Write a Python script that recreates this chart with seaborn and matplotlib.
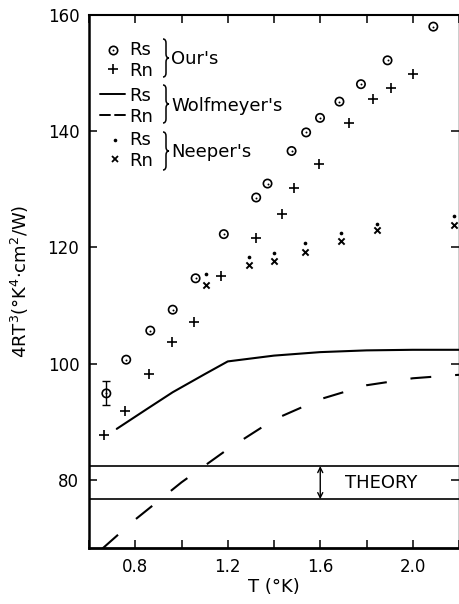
import numpy as np
import pandas as pd
import matplotlib
matplotlib.use("Agg")
import matplotlib.pyplot as plt
import seaborn as sns
from matplotlib.lines import Line2D
from matplotlib.path import Path
from matplotlib.patches import PathPatch

# ---------------- data ----------------
ours_rs_T = [0.675, 0.761, 0.865, 0.962, 1.061, 1.183, 1.323, 1.372, 1.476,
             1.539, 1.599, 1.683, 1.776, 1.891, 2.089]
ours_rs_v = [94.9, 100.7, 105.7, 109.3, 114.7, 122.3, 128.6, 131.0, 136.6,
             139.8, 142.3, 145.1, 148.1, 152.2, 158.0]
ours_rs_err_T = [0.675]
ours_rs_err_v = [94.9]
ours_rs_err = [2.05]

ours_rn_T = [0.667, 0.754, 0.859, 0.957, 1.052, 1.171, 1.323, 1.435, 1.488,
             1.596, 1.726, 1.826, 1.907, 2.003]
ours_rn_v = [87.7, 91.8, 98.2, 103.7, 107.2, 115.1, 121.7, 125.8, 130.3,
             134.3, 141.4, 145.6, 147.4, 149.9]

neeper_T = [1.104, 1.294, 1.399, 1.536, 1.688, 1.844, 2.179]
neeper_rs = [115.5, 118.3, 119.1, 120.7, 122.5, 124.1, 125.4]
neeper_rn = [113.6, 117.0, 117.7, 119.3, 121.1, 123.0, 123.8]

wolf_rs_T = [0.72, 0.85, 0.962, 1.1, 1.2, 1.4, 1.6, 1.8, 2.0, 2.2]
wolf_rs_v = [88.8, 92.2, 95.1, 98.2, 100.4, 101.4, 102.0, 102.3, 102.4, 102.4]
wolf_rn_T = [0.658, 0.8, 1.0, 1.2, 1.4, 1.6, 1.8, 2.0, 2.2]
wolf_rn_v = [68.2, 73.2, 79.6, 85.3, 90.4, 93.9, 96.3, 97.5, 98.1]

theory_band = [82.4, 76.7]
theory_arrow_T = 1.6

x_major = [0.8, 1.2, 1.6, 2.0]
x_minor = [0.6, 1.0, 1.4, 1.8, 2.2]
y_ticks = [80, 100, 120, 140, 160]

# ---------------- figure ----------------
sns.set_style("ticks")
plt.rcParams["font.family"] = ["DejaVu Sans"]
plt.rcParams["mathtext.fontset"] = "dejavusans"
for key in ["text.color", "axes.labelcolor", "xtick.color", "ytick.color",
            "axes.edgecolor"]:
    plt.rcParams[key] = "black"

W, H = 459, 604
fig = plt.figure(figsize=(W / 100, H / 100), dpi=100)
ax = fig.add_axes([89 / W, 1 - 548 / H, 370 / W, 533 / H])

k = "black"
sns.lineplot(x=wolf_rs_T, y=wolf_rs_v, ax=ax, color=k, lw=1.5)
sns.lineplot(x=wolf_rn_T, y=wolf_rn_v, ax=ax, color=k, lw=1.5,
             dashes=False)
ax.lines[-1].set_dashes((10, 11.5))

for yv in theory_band:
    ax.axhline(yv, color=k, lw=1.2)
ax.annotate("", xy=(theory_arrow_T, theory_band[0]),
            xytext=(theory_arrow_T, theory_band[1]),
            arrowprops=dict(arrowstyle="<->", lw=1.0, color=k,
                            shrinkA=0, shrinkB=0, mutation_scale=9))
ax.text(1.865, np.mean(theory_band), "THEORY", ha="center", va="center",
        fontsize=13, color=k)

# Our's
sns.scatterplot(x=ours_rs_T, y=ours_rs_v, ax=ax, marker="o", s=36,
                facecolor="none", edgecolor=k, linewidth=1.2, zorder=5)
sns.scatterplot(x=ours_rs_T, y=ours_rs_v, ax=ax, marker="o", s=2,
                color=k, linewidth=0, zorder=6)
ax.errorbar(ours_rs_err_T, ours_rs_err_v, yerr=ours_rs_err, fmt="none",
            ecolor=k, elinewidth=1.0, capsize=3, capthick=1.0)
sns.scatterplot(x=ours_rn_T, y=ours_rn_v, ax=ax, marker="+", s=50,
                color=k, linewidth=1.2, zorder=5)
# Neeper's
sns.scatterplot(x=neeper_T, y=neeper_rs, ax=ax, marker="o", s=7,
                color=k, linewidth=0, zorder=5)
sns.scatterplot(x=neeper_T, y=neeper_rn, ax=ax, marker="x", s=20,
                color=k, linewidth=1.4, zorder=5)

ax.set_xlim(0.6, 2.2)
ax.set_ylim(68.3, 160)
ax.set_xticks(x_major)
ax.set_xticklabels([f"{v:.1f}" for v in x_major])
ax.set_xticks(x_minor, minor=True)
ax.set_yticks(y_ticks)
ax.set_yticklabels([str(v) for v in y_ticks])
ax.tick_params(which="both", direction="in", length=6, width=1.1,
               top=True, right=True, labelsize=12, pad=7, colors=k,
               labelcolor=k)
for side, lw in [("left", 1.8), ("bottom", 2.0), ("top", 1.5), ("right", 1.0)]:
    ax.spines[side].set_visible(True)
    ax.spines[side].set_linewidth(lw)
    ax.spines[side].set_color(k)

ax.set_xlabel("T (°K)", fontsize=13, labelpad=2, color=k)
ax.set_ylabel(r"$4$RT$^3$(°K$^4$$\cdot$cm$^2$/W)", fontsize=13, labelpad=12,
              color=k)

# ---------------- hand-made legend (figure pixel coords) ----------------
def P(px, py):
    return (px / W, 1 - py / H)

def ftext(px, py, s, **kw):
    x, y = P(px, py)
    fig.text(x, y, s, va="center", ha="left", fontsize=13, color=k, **kw)

def fmark(px, py, **kw):
    x, y = P(px, py)
    fig.add_artist(Line2D([x], [y], transform=fig.transFigure, color=k,
                          linestyle="none", **kw))

def fline(px0, px1, py, **kw):
    x0, y = P(px0, py)
    x1, _ = P(px1, py)
    fig.add_artist(Line2D([x0, x1], [y, y], transform=fig.transFigure,
                          color=k, lw=1.4, **kw))

def brace(px, ytop, ybot, w=6, r=4):
    ym = (ytop + ybot) / 2
    xm = px + w / 2
    pts = [(px, ytop), (xm, ytop), (xm, ytop + r), (xm, ym - r),
           (xm, ym), (px + w, ym), (xm, ym), (xm, ym + r),
           (xm, ybot - r), (xm, ybot), (px, ybot)]
    codes = [Path.MOVETO, Path.CURVE3, Path.CURVE3, Path.LINETO,
             Path.CURVE3, Path.CURVE3, Path.CURVE3, Path.CURVE3,
             Path.LINETO, Path.CURVE3, Path.CURVE3]
    verts = [P(a, b) for a, b in pts]
    fig.add_artist(PathPatch(Path(verts, codes), transform=fig.transFigure,
                             fill=False, lw=1.1, color=k))

# Our's
fmark(113, 50, marker="o", ms=6, mfc="none", mew=1.2)
fmark(113, 50, marker="o", ms=1.4, mew=0)
fmark(113, 69, marker="+", ms=7, mew=1.2)
ftext(129, 50, "Rs")
ftext(129, 71, "Rn")
brace(163, 39, 77)
ftext(171, 59, "Our's")
# Wolfmeyer's
fline(100, 125, 94)
fline(100, 110, 115)
fline(115, 125, 115)
ftext(129, 96, "Rs")
ftext(129, 117, "Rn")
brace(163, 85, 123)
ftext(171, 106, "Wolfmeyer's")
# Neeper's
fmark(115, 140, marker="o", ms=2.6, mew=0)
fmark(115, 159, marker="x", ms=4.5, mew=1.3)
ftext(129, 140, "Rs")
ftext(129, 161, "Rn")
brace(163, 132, 170)
ftext(171, 152, "Neeper's")

fig.savefig("out.png", dpi=100, facecolor="white")
